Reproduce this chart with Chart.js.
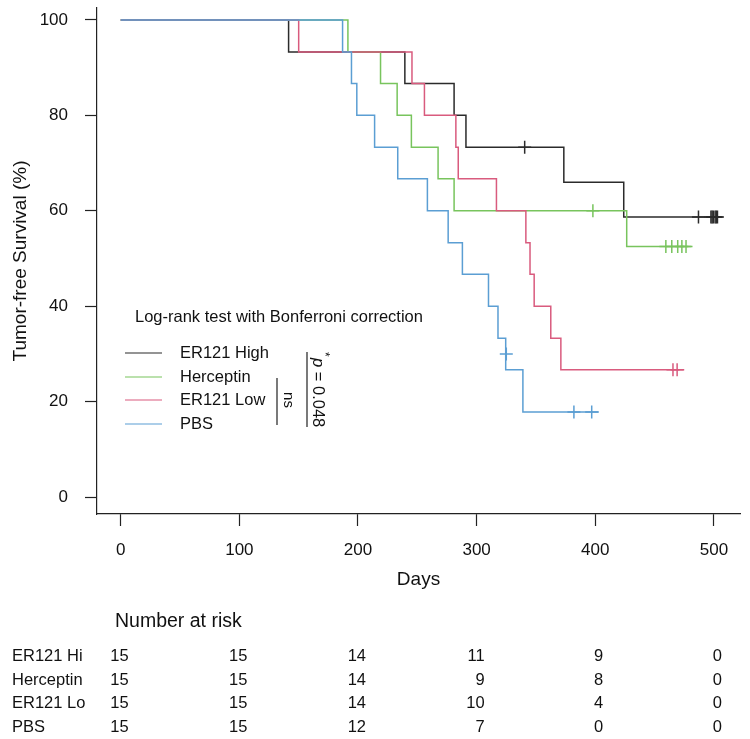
<!DOCTYPE html>
<html>
<head>
<meta charset="utf-8">
<script src="https://cdn.jsdelivr.net/npm/chart.js@4.4.0/dist/chart.umd.min.js"></script>
<style>
body { margin: 0; background: #fff; }
canvas { display: block; }
</style>
</head>
<body>
<canvas id="km" width="750" height="739"></canvas>
<script>
// Kaplan-Meier curves, tumor-free survival per group
var groupNames = ['ER121 High', 'Herceptin', 'ER121 Low', 'PBS'];
var riskNames = ['ER121 Hi', 'Herceptin', 'ER121 Lo', 'PBS'];
var groupColors = ['#2b2b2b', '#78c45d', '#d95b7e', '#5b9ed3'];

// step times (days) and survival (%) after each step; last point = end of follow-up
var highDays = [0, 141.5, 239.5, 281, 291, 373.5, 424, 507];
var highSurv = [100, 93.3, 86.7, 80, 73.3, 66.0, 58.7, 58.7];
var hercDays = [0, 191.5, 219, 233, 245, 267.5, 281, 426.5, 481];
var hercSurv = [100, 93.3, 86.7, 80, 73.3, 66.7, 60, 52.5, 52.5];
var lowDays = [0, 150, 245.5, 256, 282.5, 284.5, 316.7, 341.5, 345, 348.5, 362.5, 371, 475];
var lowSurv = [100, 93.3, 86.7, 80, 73.3, 66.7, 60, 53.3, 46.7, 40, 33.3, 26.7, 26.7];
var pbsDays = [0, 187, 194.5, 199, 214, 233.5, 258.5, 276, 288, 310, 318, 324.5, 339, 403];
var pbsSurv = [100, 93.3, 86.7, 80, 73.3, 66.7, 60, 53.3, 46.7, 40, 33.3, 26.7, 17.8, 17.8];

// censored observations (+ marks)
var highCensDays = [340.5, 487, 497.5, 498.5, 499.5, 501, 502, 503];
var highCensSurv = [73.3, 58.7, 58.7, 58.7, 58.7, 58.7, 58.7, 58.7];
var hercCensDays = [398, 459.5, 464.5, 469.5, 473, 476.5];
var hercCensSurv = [60, 52.5, 52.5, 52.5, 52.5, 52.5];
var lowCensDays = [465.5, 469];
var lowCensSurv = [26.7, 26.7];
var pbsCensDays = [325, 382, 397];
var pbsCensSurv = [30, 17.8, 17.8];

// number at risk table
var riskDays = [0, 100, 200, 300, 400, 500];
var riskHigh = [15, 15, 14, 11, 9, 0];
var riskHerc = [15, 15, 14, 9, 8, 0];
var riskLow = [15, 15, 14, 10, 4, 0];
var riskPbs = [15, 15, 12, 7, 0, 0];

var xTicks = [0, 100, 200, 300, 400, 500];
var yTicks = [0, 20, 40, 60, 80, 100];

var FONT = "'Liberation Sans', Arial, Helvetica, sans-serif";
Chart.defaults.font.family = FONT;
Chart.defaults.color = '#111';

function pts(xs, ys) {
    return xs.map(function (x, i) { return {x: x, y: ys[i]}; });
}

var curves = [[highDays, highSurv], [hercDays, hercSurv], [lowDays, lowSurv], [pbsDays, pbsSurv]];
var censors = [[highCensDays, highCensSurv], [hercCensDays, hercCensSurv], [lowCensDays, lowCensSurv], [pbsCensDays, pbsCensSurv]];
var riskRows = [riskHigh, riskHerc, riskLow, riskPbs];

var datasets = [];
curves.forEach(function (c, i) {
    datasets.push({
        label: groupNames[i],
        data: pts(c[0], c[1]),
        borderColor: groupColors[i],
        borderWidth: 1.5,
        stepped: true,
        pointRadius: 0,
        fill: false,
        order: 8 - i
    });
});
censors.forEach(function (c, i) {
    datasets.push({
        label: groupNames[i] + ' censored',
        data: pts(c[0], c[1]),
        showLine: false,
        pointStyle: 'cross',
        pointRadius: 6.5,
        pointBorderWidth: 1.5,
        borderColor: groupColors[i],
        order: 4 - i
    });
});

// legend, significance bars and number-at-risk table
var extras = {
    id: 'extras',
    afterDraw: function (chart) {
        var ctx = chart.ctx;
        var xs = chart.scales.x;
        ctx.save();
        ctx.fillStyle = '#111';
        ctx.textBaseline = 'middle';
        ctx.textAlign = 'left';
        ctx.font = '16.5px ' + FONT;
        ctx.fillText('Log-rank test with Bonferroni correction', 135, 317);
        var legY = [353, 377, 400, 424];
        groupNames.forEach(function (n, i) {
            ctx.strokeStyle = groupColors[i];
            ctx.lineWidth = 1.2;
            ctx.beginPath();
            ctx.moveTo(125, legY[i]);
            ctx.lineTo(162, legY[i]);
            ctx.stroke();
            ctx.fillText(n, 180, legY[i]);
        });

        ctx.strokeStyle = '#222';
        ctx.lineWidth = 1.2;
        ctx.beginPath();
        ctx.moveTo(277, 378); ctx.lineTo(277, 425);
        ctx.moveTo(307, 352); ctx.lineTo(307, 427);
        ctx.stroke();

        ctx.save();
        ctx.translate(288, 400);
        ctx.rotate(Math.PI / 2);
        ctx.textAlign = 'center';
        ctx.font = '15px ' + FONT;
        ctx.fillText('ns', 0, 0);
        ctx.restore();

        ctx.save();
        ctx.translate(318, 352);
        ctx.rotate(Math.PI / 2);
        ctx.textAlign = 'left';
        ctx.font = '12px ' + FONT;
        ctx.fillText('*', 0, -6);
        ctx.font = 'italic 16.5px ' + FONT;
        ctx.fillText('p', 6, 0);
        ctx.font = '16.5px ' + FONT;
        ctx.fillText(' = 0.048', 6 + ctx.measureText('p').width, 0);
        ctx.restore();

        ctx.font = '19.5px ' + FONT;
        ctx.fillText('Number at risk', 115, 622);
        var rowY = [656, 680, 703, 727];
        ctx.font = '16.5px ' + FONT;
        riskNames.forEach(function (n, r) {
            ctx.textAlign = 'left';
            ctx.fillText(n, 12, rowY[r]);
            ctx.textAlign = 'right';
            riskDays.forEach(function (d, k) {
                ctx.fillText(String(riskRows[r][k]), xs.getPixelForValue(d) + 8, rowY[r]);
            });
        });
        ctx.restore();
    }
};

var ctx = document.getElementById('km').getContext('2d');
var myChart = new Chart(ctx, {
    type: 'line',
    data: {datasets: datasets},
    options: {
        responsive: false,
        animation: false,
        layout: {padding: {top: 0, right: 10, left: 0, bottom: 0}},
        plugins: {
            legend: {display: false},
            tooltip: {enabled: false}
        },
        scales: {
            x: {
                type: 'linear',
                min: -20,
                max: 522,
                afterBuildTicks: function (s) { s.ticks = xTicks.map(function (v) { return {value: v}; }); },
                afterFit: function (s) { s.height = 225; },
                grid: {display: true, drawOnChartArea: false, drawTicks: true, tickLength: 12, tickColor: '#222', tickWidth: 1.2},
                border: {display: true, color: '#222', width: 1.2},
                ticks: {font: {size: 17}, padding: 14, maxRotation: 0, autoSkip: false},
                title: {display: true, text: 'Days', font: {size: 19}, padding: {top: 0, bottom: 148}}
            },
            y: {
                type: 'linear',
                min: -3.56,
                max: 102.5,
                afterBuildTicks: function (s) { s.ticks = yTicks.map(function (v) { return {value: v}; }); },
                afterFit: function (s) {
                    s.width = 97;
                    s.paddingTop = 0;
                    s.paddingBottom = 0;
                },
                grid: {display: true, drawOnChartArea: false, drawTicks: true, tickLength: 12, tickColor: '#222', tickWidth: 1.2},
                border: {display: true, color: '#222', width: 1.2},
                ticks: {font: {size: 17}, padding: 17},
                title: {display: true, text: 'Tumor-free Survival (%)', font: {size: 19}, padding: {top: 9, bottom: 0}}
            }
        }
    },
    plugins: [extras]
});
</script>
</body>
</html>
